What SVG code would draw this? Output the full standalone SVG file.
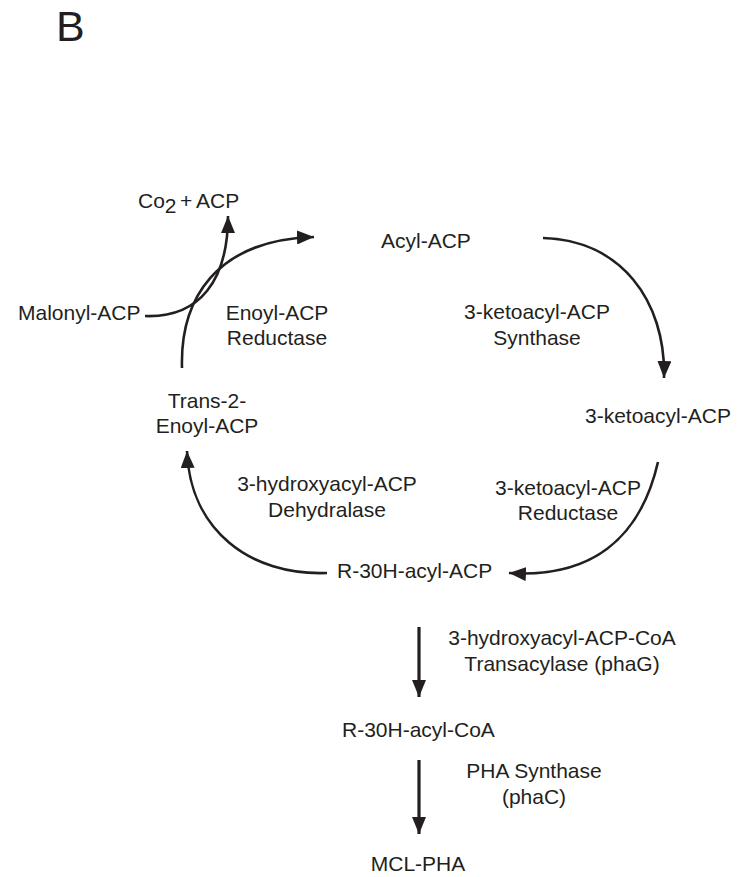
<svg xmlns="http://www.w3.org/2000/svg" width="742" height="877" viewBox="0 0 742 877">
<style>
text{font-family:"Liberation Sans",Arial,sans-serif;font-size:21px;fill:#231f20}
.c{text-anchor:middle}
.ln{fill:none;stroke:#231f20;stroke-width:2.6;stroke-linecap:butt}
.st{fill:none;stroke:#231f20;stroke-width:3.2}
</style>
<defs>
<marker id="ah" markerUnits="userSpaceOnUse" markerWidth="18" markerHeight="14" refX="17" refY="7" orient="auto">
<path d="M0,0 L17,7 L0,14 z" fill="#231f20"/>
</marker>
</defs>
<rect width="742" height="877" fill="#fff"/>
<text x="56" y="41" style="font-size:43px">B</text>
<g id="co2acp"><text x="138" y="208">Co<tspan dy="5">2</tspan><tspan x="180" dy="-5">+</tspan><tspan x="196">ACP</tspan></text></g>
<g id="acylacp"><text x="381" y="248">Acyl-ACP</text></g>
<g id="malonyl"><text x="18" y="320">Malonyl-ACP</text></g>
<g id="enoylred"><text class="c" x="277" y="320">Enoyl-ACP</text><text class="c" x="277" y="345">Reductase</text></g>
<g id="ketosyn"><text class="c" x="537" y="319">3-ketoacyl-ACP</text><text class="c" x="537" y="345">Synthase</text></g>
<g id="ketoacyl"><text x="585" y="423">3-ketoacyl-ACP</text></g>
<g id="trans2"><text class="c" x="207" y="408">Trans-2-</text><text class="c" x="207" y="433">Enoyl-ACP</text></g>
<g id="dehyd"><text class="c" x="327" y="491">3-hydroxyacyl-ACP</text><text class="c" x="327" y="517">Dehydralase</text></g>
<g id="ketored"><text class="c" x="568" y="495">3-ketoacyl-ACP</text><text class="c" x="568" y="520">Reductase</text></g>
<g id="r30hacp"><text x="337" y="578">R-30H-acyl-ACP</text></g>
<g id="phag"><text class="c" x="562" y="645">3-hydroxyacyl-ACP-CoA</text><text class="c" x="562" y="671">Transacylase (phaG)</text></g>
<g id="r30hcoa"><text x="342" y="737">R-30H-acyl-CoA</text></g>
<g id="phac"><text class="c" x="534" y="778">PHA Synthase</text><text class="c" x="534" y="804">(phaC)</text></g>
<g id="mclpha"><text class="c" x="418" y="871">MCL-PHA</text></g>
<g id="connectors">
<path class="ln" d="M182,368 C180,300 215,240 314,237" marker-end="url(#ah)"/>
<path class="ln" d="M145,316 C200,318 228,280 228,216" marker-end="url(#ah)"/>
<path class="ln" d="M543,238 C620,240 666,300 664,378" marker-end="url(#ah)"/>
<path class="ln" d="M658,462 C640,540 590,578 509,573" marker-end="url(#ah)"/>
<path class="ln" d="M327,573 C250,576 190,530 187,451" marker-end="url(#ah)"/>
<path class="st" d="M419,627 L419,697" marker-end="url(#ah)"/>
<path class="st" d="M419,760 L419,834" marker-end="url(#ah)"/>
</g>
</svg>
